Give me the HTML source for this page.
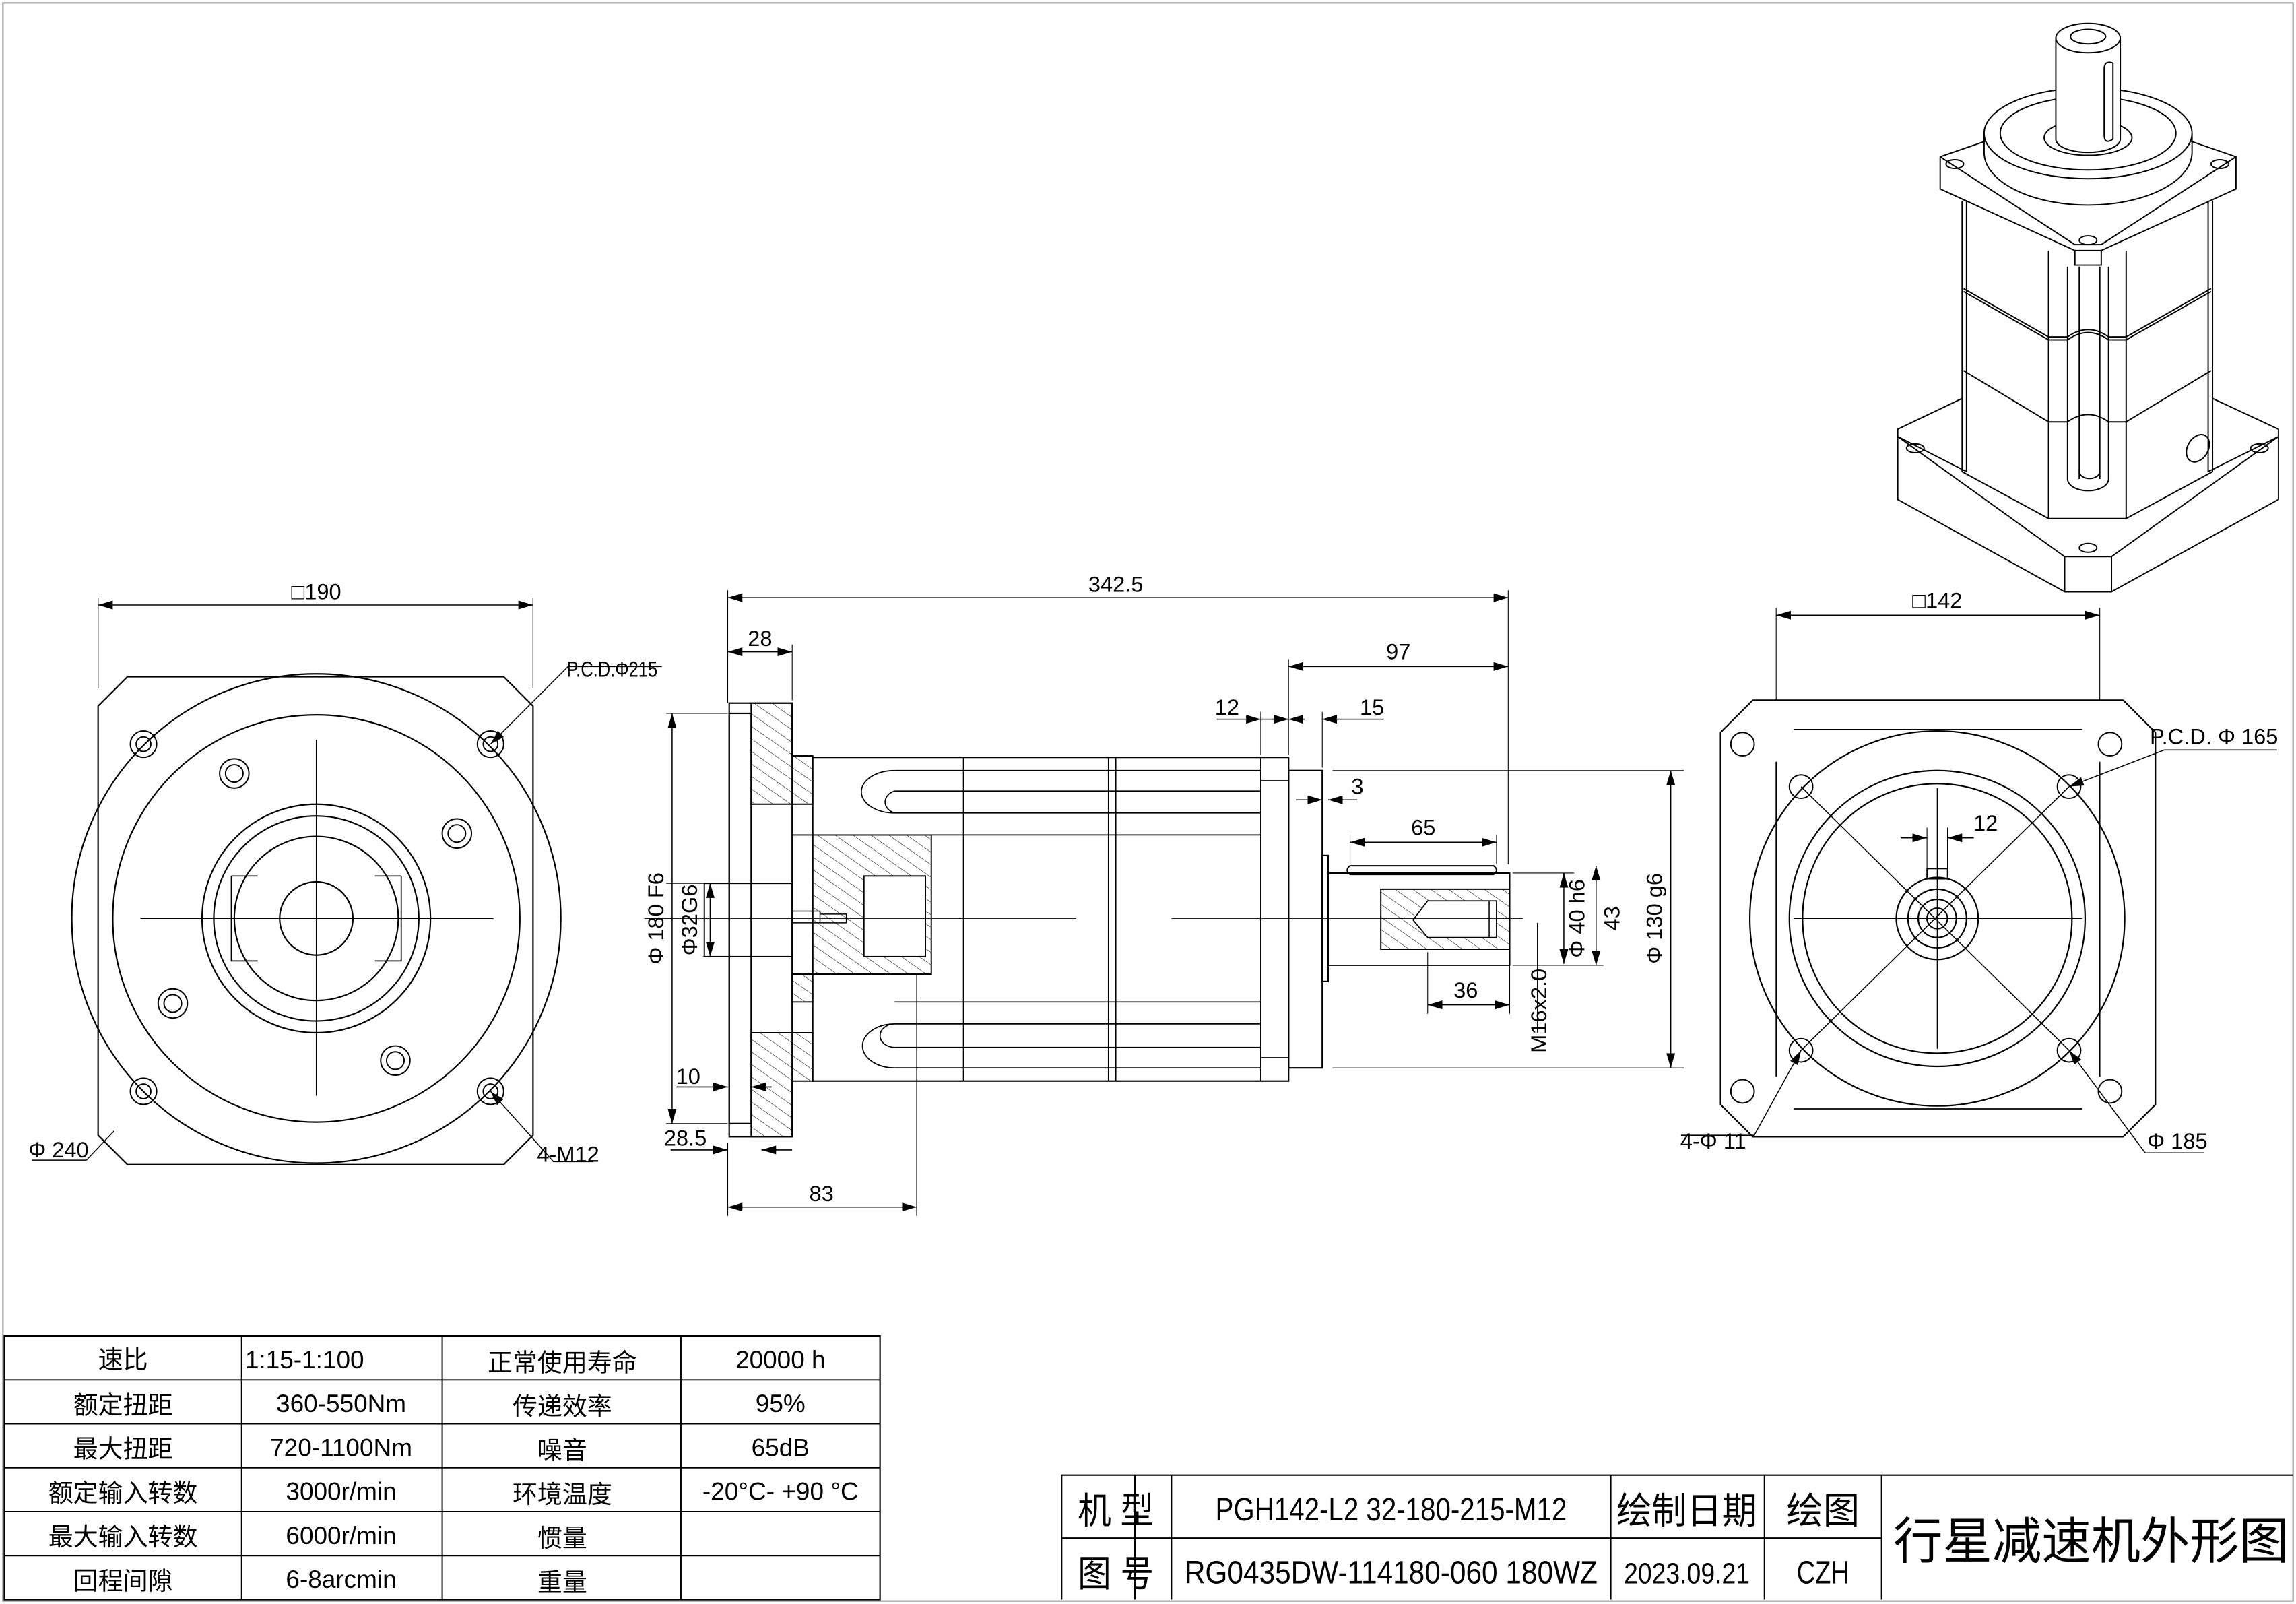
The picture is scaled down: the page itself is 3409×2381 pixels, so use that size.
<!DOCTYPE html>
<html><head><meta charset="utf-8"><style>
html,body{margin:0;padding:0;background:#fff}
svg{display:block}
text{font-family:"Liberation Sans","Noto Sans CJK SC",sans-serif;fill:#000}
</style></head><body>
<svg width="3409" height="2381" viewBox="0 0 1568 1095" preserveAspectRatio="none" xmlns="http://www.w3.org/2000/svg">
<defs>
<marker id="a" viewBox="0 0 10 6" refX="10" refY="3" markerWidth="10" markerHeight="6" orient="auto-start-reverse" markerUnits="userSpaceOnUse"><path d="M0,0L10,3L0,6z" fill="#000"/></marker>
<pattern id="h" patternUnits="userSpaceOnUse" width="7" height="7" patternTransform="rotate(-55)"><line x1="0" y1="0" x2="0" y2="7" stroke="#000" stroke-width="0.5"/></pattern>
</defs>
<g fill="none" stroke="#000" stroke-width="1">
<rect x="2" y="2" width="1564" height="1091" stroke="#999"/>

<!-- LEFT VIEW -->
<path d="M87,462H344L364,482V775L344,795H87L67,775V482Z"/>
<circle cx="216" cy="627" r="167"/>
<circle cx="216" cy="627" r="139"/>
<circle cx="216" cy="627" r="78"/>
<circle cx="216" cy="627" r="70"/>
<circle cx="216" cy="627" r="56"/>
<circle cx="216" cy="627" r="25"/>
<path d="M158,598V656H176M274,598V656H256M158,598H176M274,598H256" stroke-width="0.8"/>
<g stroke-width="0.9">
<circle cx="98" cy="508" r="9"/><circle cx="98" cy="508" r="5"/>
<circle cx="335" cy="508" r="9"/><circle cx="335" cy="508" r="5"/>
<circle cx="98" cy="745" r="9"/><circle cx="98" cy="745" r="5"/>
<circle cx="335" cy="745" r="9"/><circle cx="335" cy="745" r="5"/>
<circle cx="160" cy="528" r="10"/><circle cx="160" cy="528" r="6"/>
<circle cx="312" cy="569" r="10"/><circle cx="312" cy="569" r="6"/>
<circle cx="118" cy="685" r="10"/><circle cx="118" cy="685" r="6"/>
<circle cx="270" cy="724" r="10"/><circle cx="270" cy="724" r="6"/>
</g>
<path d="M96,627H337M216,505V748" stroke-width="0.6"/>
<path d="M67,470V408M364,470V408" stroke-width="0.6"/>
<line x1="67" y1="413" x2="364" y2="413" stroke-width="0.7" marker-start="url(#a)" marker-end="url(#a)"/>
<path d="M335,508L388,455H452" stroke-width="0.7" marker-start="url(#a)"/>
<path d="M59,792L22,792M59,792L78,772" stroke-width="0.7"/>
<path d="M335,745L378,793H405" stroke-width="0.7" marker-start="url(#a)"/>

<!-- MIDDLE VIEW -->
<path d="M513,480H541V516H555V549H513Z" fill="url(#h)" stroke-width="0.9"/>
<path d="M513,776H541V738H555V705H513Z" fill="url(#h)" stroke-width="0.9"/>
<path d="M541,570H636V665H541V684H555V570Z" fill="url(#h)" stroke-width="0.9"/>
<rect x="590" y="598" width="42" height="55" fill="#fff" stroke-width="0.9"/>
<rect x="498" y="480" width="43" height="296"/>
<rect x="498" y="487" width="15" height="280"/>
<rect x="555" y="517" width="325" height="221"/>
<path d="M658,517V738M757,517V738M762,517V738M861,517V738" stroke-width="0.8"/>
<path d="M611,526H861M611,540H861M611,555H861M555,570H861" stroke-width="0.8"/>
<path d="M611,684H861M611,699H861M611,715H861M611,729H861" stroke-width="0.8"/>
<path d="M611,526A22,14 0 0 0 611,555M611,540A10,8 0 0 0 611,555M611,699A22,15 0 0 0 611,729M611,699A10,8 0 0 0 611,715" stroke-width="0.8"/>
<rect x="481" y="603" width="60" height="50" stroke-width="0.9"/>
<path d="M541,622H560V630H541M560,624H578V630H560" stroke-width="0.7"/>
<path d="M861,533H880M861,722H880" stroke-width="0.8"/>
<rect x="880" y="526" width="23" height="203"/>
<rect x="903" y="584" width="4" height="86"/>
<path d="M907,596H1031V659H907M922,591H1020Q1024,594 1020,597H922Q918,594 922,591Z" stroke-width="0.9"/>
<path d="M943,607H1031V648H943Z" fill="url(#h)" stroke-width="0.9"/>
<path d="M975,615H1022V640H975L965,628Z" fill="#fff" stroke-width="0.8"/>
<path d="M1017,615V640" stroke-width="0.7"/>
<path d="M440,627H735M800,627H1040" stroke-width="0.5"/>
<path d="M497,480V403M1030,590V403M541,478V440M880,515V450M861,515V486M903,524V486M626,665V830M497,780V830M975,650V692M1031,650V692M922,590V570M1022,590V570M1033,596H1075M1033,659H1095M910,526H1150M910,729H1150M481,603H455M481,653H480M455,487H497M455,767H497" stroke-width="0.5"/>
<g stroke-width="0.7">
<line x1="497" y1="408" x2="1030" y2="408" marker-start="url(#a)" marker-end="url(#a)"/>
<line x1="497" y1="445" x2="541" y2="445" marker-start="url(#a)" marker-end="url(#a)"/>
<line x1="880" y1="455" x2="1030" y2="455" marker-start="url(#a)" marker-end="url(#a)"/>
<line x1="831" y1="491" x2="861" y2="491" marker-end="url(#a)"/>
<line x1="880" y1="491" x2="861" y2="491"/>
<line x1="868" y1="491" x2="880" y2="491" marker-end="url(#a)"/>
<line x1="891" y1="491" x2="880" y2="491" marker-end="url(#a)"/>
<line x1="945" y1="491" x2="903" y2="491" marker-end="url(#a)"/>
<line x1="885" y1="546" x2="903" y2="546" marker-end="url(#a)"/>
<line x1="927" y1="546" x2="907" y2="546" marker-end="url(#a)"/>
<line x1="922" y1="575" x2="1022" y2="575" marker-start="url(#a)" marker-end="url(#a)"/>
<line x1="975" y1="686" x2="1031" y2="686" marker-start="url(#a)" marker-end="url(#a)"/>
<line x1="1068" y1="596" x2="1068" y2="658" marker-start="url(#a)" marker-end="url(#a)"/>
<line x1="1090" y1="591" x2="1090" y2="659" marker-start="url(#a)" marker-end="url(#a)"/>
<line x1="1141" y1="526" x2="1141" y2="729" marker-start="url(#a)" marker-end="url(#a)"/>
<line x1="1050" y1="630" x2="1050" y2="705"/>
<line x1="459" y1="487" x2="459" y2="767" marker-start="url(#a)" marker-end="url(#a)"/>
<line x1="485" y1="603" x2="485" y2="653" marker-start="url(#a)" marker-end="url(#a)"/>
<line x1="462" y1="742" x2="497" y2="742" marker-end="url(#a)"/>
<line x1="527" y1="742" x2="513" y2="742" marker-end="url(#a)"/>
<line x1="458" y1="785" x2="497" y2="785" marker-end="url(#a)"/>
<line x1="520" y1="785" x2="541" y2="785" marker-start="url(#a)"/>
<line x1="497" y1="824" x2="626" y2="824" marker-start="url(#a)" marker-end="url(#a)"/>
</g>

<!-- RIGHT VIEW -->
<path d="M1197,478H1450L1472,500V754L1450,776H1197L1175,754V500Z"/>
<path d="M1213,520V735M1434,520V735M1225,498H1422M1225,757H1422" stroke-width="0.8"/>
<circle cx="1323" cy="627" r="128"/>
<circle cx="1323" cy="627" r="101"/>
<circle cx="1323" cy="627" r="92"/>
<circle cx="1323" cy="627" r="28"/>
<circle cx="1323" cy="627" r="20"/>
<circle cx="1323" cy="627" r="13"/>
<circle cx="1323" cy="627" r="7"/>
<rect x="1316" y="593" width="14" height="7" stroke-width="0.8"/>
<g stroke-width="0.9">
<circle cx="1230" cy="537" r="8"/><circle cx="1413" cy="537" r="8"/>
<circle cx="1230" cy="717" r="8"/><circle cx="1413" cy="717" r="8"/>
<circle cx="1190" cy="508" r="8"/><circle cx="1441" cy="508" r="8"/>
<circle cx="1190" cy="745" r="8"/><circle cx="1441" cy="745" r="8"/>
</g>
<path d="M1225,627H1422M1323,538V716" stroke-width="0.6"/>
<path d="M1213,478V415M1434,478V415M1316,593V565M1330,593V565" stroke-width="0.5"/>
<g stroke-width="0.7">
<line x1="1213" y1="420" x2="1434" y2="420" marker-start="url(#a)" marker-end="url(#a)"/>
<line x1="1298" y1="572" x2="1316" y2="572" marker-end="url(#a)"/>
<line x1="1348" y1="572" x2="1330" y2="572" marker-end="url(#a)"/>
<path d="M1230,717L1198,775H1148" marker-start="url(#a)"/>
<path d="M1413,537L1478,512H1555" marker-start="url(#a)"/>
<path d="M1413,717L1465,787H1505" marker-start="url(#a)"/>
<path d="M1230,537L1413,717M1413,537L1230,717"/>
</g>

<!-- 3D -->
<g stroke-width="0.9">
<path d="M1325,107V129L1417,171V181H1435V171L1527,129V107L1495,96M1325,107L1357,96M1325,107L1417,167H1435L1527,107"/>
<path d="M1417,171H1435"/>
<ellipse cx="1426" cy="91" rx="71" ry="31" fill="#fff"/>
<path d="M1355,91V104A71,36 0 0 0 1497,104V91"/>
<ellipse cx="1426" cy="91" rx="60" ry="25"/>
<ellipse cx="1426" cy="94" rx="30" ry="12" fill="#fff"/>
<path d="M1404,26V95A22,9 0 0 0 1448,95V26" fill="#fff"/>
<ellipse cx="1426" cy="26" rx="22" ry="10" fill="#fff"/>
<ellipse cx="1426" cy="25" rx="12" ry="5"/>
<path d="M1437,47Q1437,41 1443,43V95Q1437,99 1437,92Z"/>
<ellipse cx="1335" cy="112" rx="6" ry="3"/><ellipse cx="1516" cy="112" rx="6" ry="3"/><ellipse cx="1426" cy="164" rx="6" ry="3"/>
<path d="M1340,137V322L1399,354H1452L1511,322V137M1343,137V322M1508,137V322"/>
<path d="M1399,171V354M1452,171V354M1412,182V327M1420,182V327M1434,182V327M1440,182V327"/>
<path d="M1341,197L1399,230H1412Q1426,220 1440,230H1452L1510,197M1341,199L1399,232H1412Q1426,222 1440,232H1452L1510,199"/>
<path d="M1341,253L1399,288H1412Q1426,278 1440,288H1452L1510,253"/>
<path d="M1412,327A14,8 0 0 0 1440,327M1420,322A6,4 0 0 0 1434,322"/>
<path d="M1340,272L1296,293V341L1410,404H1442L1556,341V293L1511,272"/>
<path d="M1296,298L1343,322M1296,298L1410,380H1442L1556,298M1410,380V404M1442,380V404M1556,298L1508,322"/>
<ellipse cx="1308" cy="306" rx="6" ry="3"/><ellipse cx="1543" cy="306" rx="6" ry="3"/><ellipse cx="1426" cy="374" rx="6" ry="3"/>
<ellipse cx="1501" cy="306" rx="7" ry="10" transform="rotate(30 1501 306)"/>
</g>

<!-- TABLE -->
<rect x="3" y="912" width="598" height="180"/>
<path d="M3,942H601M3,972H601M3,1002H601M3,1032H601M3,1062H601M165,912V1092M302,912V1092M465,912V1092" stroke-width="0.9"/>
<!-- TITLE BLOCK -->
<path d="M725,1092V1007H1566M725,1050H1285M775,1007V1092M800,1007V1092M1100,1007V1092M1205,1007V1092M1285,1007V1092"/>
</g>

<g font-size="15" text-anchor="middle">
<text x="216" y="409">□190</text>
<text x="418" y="462" textLength="62" lengthAdjust="spacingAndGlyphs">P.C.D.Φ215</text>
<text x="40" y="790">Φ 240</text>
<text x="388" y="793">4-M12</text>
<text x="762" y="404">342.5</text>
<text x="519" y="441">28</text>
<text x="955" y="450">97</text>
<text x="838" y="488">12</text>
<text x="937" y="488">15</text>
<text x="927" y="542">3</text>
<text x="972" y="570">65</text>
<text x="1001" y="681">36</text>
<text x="470" y="740">10</text>
<text x="468" y="782">28.5</text>
<text x="561" y="820">83</text>
<text transform="translate(453,627) rotate(-90)">Φ 180 F6</text>
<text transform="translate(476,628) rotate(-90)">Φ32G6</text>
<text transform="translate(1082,627) rotate(-90)">Φ 40 h6</text>
<text transform="translate(1106,627) rotate(-90)">43</text>
<text transform="translate(1135,627) rotate(-90)">Φ 130 g6</text>
<text transform="translate(1056,690) rotate(-90)">M16x2.0</text>
<text x="1323" y="415">□142</text>
<text x="1356" y="567">12</text>
<text x="1512" y="508">P.C.D.  Φ 165</text>
<text x="1170" y="784">4-Φ 11</text>
<text x="1487" y="784">Φ 185</text>
</g>
<g font-size="17" text-anchor="middle">
<text x="84" y="934">速比</text><text x="208" y="934">1:15-1:100</text><text x="384" y="936">正常使用寿命</text><text x="533" y="934">20000 h</text>
<text x="84" y="965">额定扭距</text><text x="233" y="964">360-550Nm</text><text x="384" y="966">传递效率</text><text x="533" y="964">95%</text>
<text x="84" y="995">最大扭距</text><text x="233" y="994">720-1100Nm</text><text x="384" y="996">噪音</text><text x="533" y="994">65dB</text>
<text x="84" y="1025">额定输入转数</text><text x="233" y="1024">3000r/min</text><text x="384" y="1026">环境温度</text><text x="533" y="1024">-20°C- +90 °C</text>
<text x="84" y="1055">最大输入转数</text><text x="233" y="1054">6000r/min</text><text x="384" y="1056">惯量</text>
<text x="84" y="1085">回程间隙</text><text x="233" y="1084">6-8arcmin</text><text x="384" y="1086">重量</text>
</g>
<g text-anchor="middle">
<text x="762" y="1040" font-size="25" textLength="52" lengthAdjust="spacingAndGlyphs">机 型</text>
<text x="762" y="1083" font-size="25" textLength="52" lengthAdjust="spacingAndGlyphs">图 号</text>
<text x="950" y="1038" font-size="22" textLength="240" lengthAdjust="spacingAndGlyphs">PGH142-L2 32-180-215-M12</text>
<text x="950" y="1081" font-size="22" textLength="282" lengthAdjust="spacingAndGlyphs">RG0435DW-114180-060 180WZ</text>
<text x="1152" y="1040" font-size="25" textLength="96" lengthAdjust="spacingAndGlyphs">绘制日期</text>
<text x="1152" y="1081" font-size="20" textLength="86" lengthAdjust="spacingAndGlyphs">2023.09.21</text>
<text x="1245" y="1040" font-size="25">绘图</text>
<text x="1245" y="1081" font-size="22" textLength="36" lengthAdjust="spacingAndGlyphs">CZH</text>
<text x="1428" y="1064" font-size="34" textLength="270" lengthAdjust="spacingAndGlyphs">行星减速机外形图</text>
</g>
</svg>
</body></html>
